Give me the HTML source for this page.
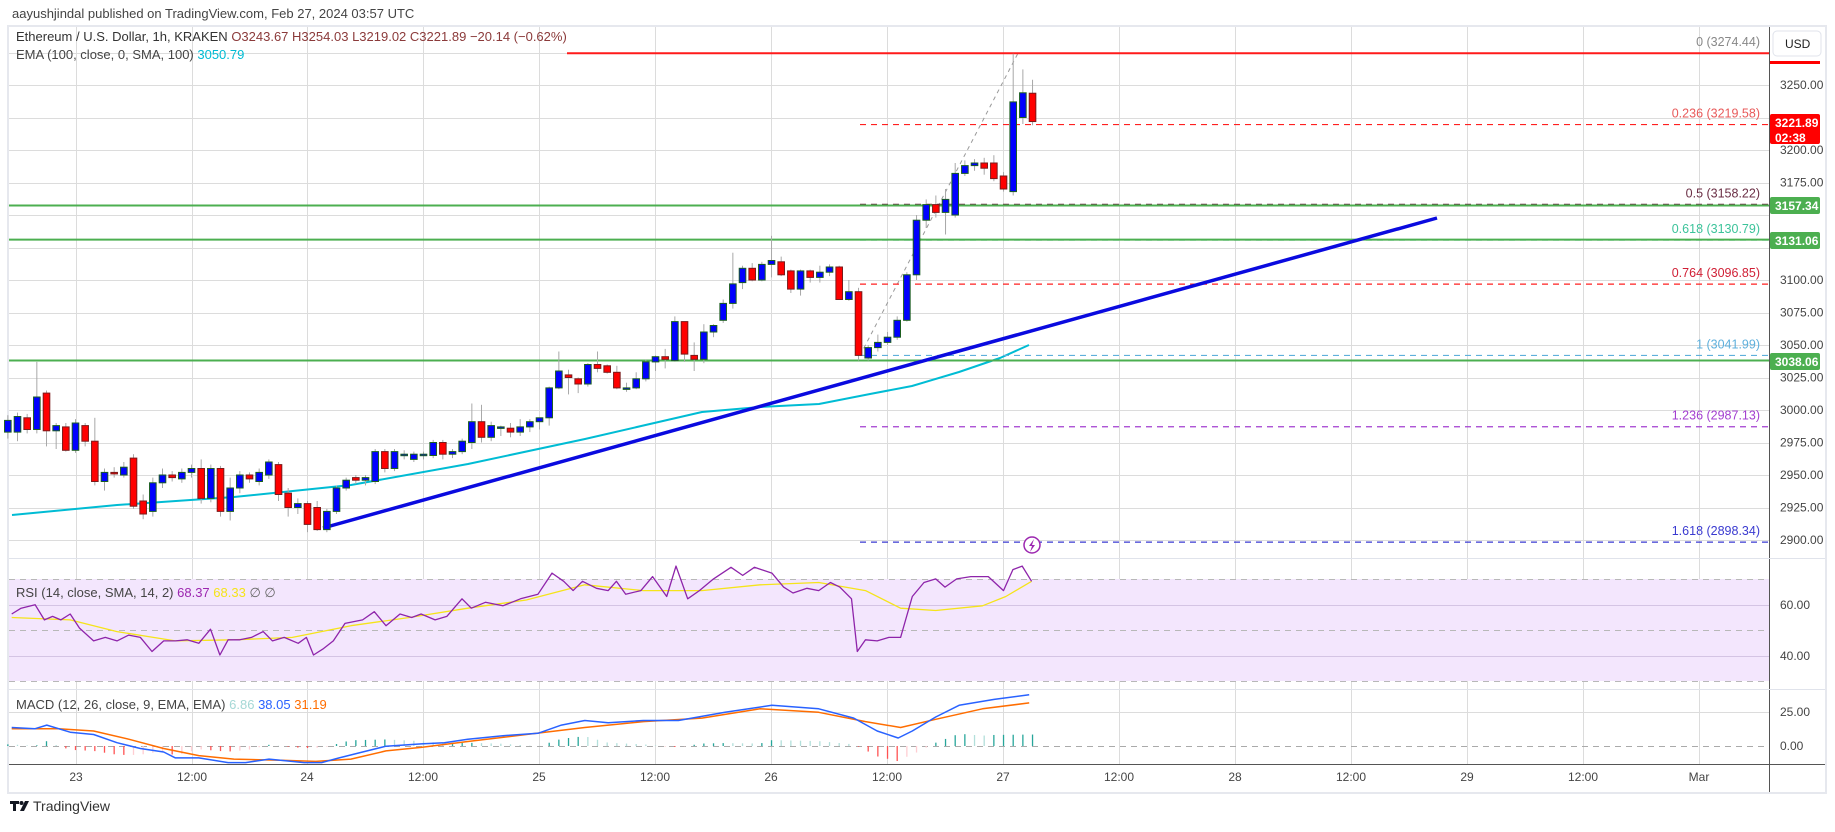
<!DOCTYPE html>
<html><head><meta charset="utf-8">
<style>
html,body{margin:0;padding:0;background:#fff;}
body{width:1835px;height:827px;overflow:hidden;position:relative;font-family:"Liberation Sans",sans-serif;}
svg text{font-family:"Liberation Sans",sans-serif;}
</style></head>
<body>
<svg id="s" width="1835" height="827" viewBox="0 0 1835 827" xmlns="http://www.w3.org/2000/svg">
<rect x="0" y="0" width="1835" height="827" fill="#fff"/>
<!-- frame -->
<rect x="8" y="26" width="1818" height="767" fill="#fff" stroke="#e6e8ee" stroke-width="2"/>
<g id="grid"></g>
<!-- RSI shading -->
<rect x="9" y="579" width="1760" height="102" fill="#f3e6fd"/>
<g id="grid2"></g>
<g id="lines"></g>
<g id="candles"></g>
<g id="over"></g>
<!-- axes -->
<line x1="1769.5" y1="27" x2="1769.5" y2="792" stroke="#555" stroke-width="1"/>
<line x1="9" y1="764.5" x2="1825" y2="764.5" stroke="#555" stroke-width="1"/>
<line x1="9" y1="558.5" x2="1825" y2="558.5" stroke="#e0e3eb" stroke-width="1"/>
<line x1="9" y1="689.5" x2="1825" y2="689.5" stroke="#e0e3eb" stroke-width="1"/>
<g id="axis" font-size="12" fill="#444"></g>

<!-- header -->
<text x="12" y="18" font-size="13" fill="#444">aayushjindal published on TradingView.com, Feb 27, 2024 03:57 UTC</text>
<text x="16" y="41" font-size="13" fill="#333">Ethereum / U.S. Dollar, 1h, KRAKEN <tspan fill="#8b3a3a">O3243.67</tspan> <tspan fill="#8b3a3a">H3254.03</tspan> <tspan fill="#8b3a3a">L3219.02</tspan> <tspan fill="#8b3a3a">C3221.89</tspan> <tspan fill="#8b3a3a">−20.14 (−0.62%)</tspan></text>
<text x="16" y="59" font-size="13" fill="#444">EMA (100, close, 0, SMA, 100) <tspan fill="#00bcd4">3050.79</tspan></text>
<text x="16" y="597" font-size="13" fill="#444">RSI (14, close, SMA, 14, 2) <tspan fill="#9c27b0">68.37</tspan> <tspan fill="#f5e41a">68.33</tspan> <tspan fill="#666">∅</tspan> <tspan fill="#666">∅</tspan></text>
<text x="16" y="709" font-size="13" fill="#444">MACD (12, 26, close, 9, EMA, EMA) <tspan fill="#a5d8d6">6.86</tspan> <tspan fill="#2962ff">38.05</tspan> <tspan fill="#ff6d00">31.19</tspan></text>

<!-- USD button -->
<rect x="1773" y="31" width="48" height="25" rx="4" fill="#fff" stroke="#e0e3eb"/>
<text x="1785" y="48" font-size="12" fill="#222">USD</text>

<!-- logo -->
<g transform="translate(10,801)">
<path d="M0 0h9v3h-3v7h-3v-7h-3z" fill="#131722"/>
<circle cx="11.5" cy="2" r="2" fill="#131722"/>
<path d="M15 0h4l-5 10h-4z" fill="#131722"/>
</g>
<text x="33" y="811" font-size="14" fill="#333">TradingView</text>
</svg>
<script>
var NS="http://www.w3.org/2000/svg";
function el(p,t,a,txt){var e=document.createElementNS(NS,t);for(var k in a)e.setAttribute(k,a[k]);if(txt!==undefined)e.textContent=txt;document.getElementById(p).appendChild(e);return e;}
function py(p){return 85+(3250-p)*1.3;}
function xh(h){return 75.5+h*9.667;}
// grid
var vx=[76,192,307,423,539,655,771,887,1003,1119,1235,1351,1467,1583,1699];
vx.forEach(function(x){el("grid","line",{x1:x+.5,y1:27,x2:x+.5,y2:764,stroke:"#dcdcdc","stroke-width":1});});
for(var p=2900;p<=3275;p+=25){var y=Math.round(py(p))+.5;el("grid","line",{x1:9,y1:y,x2:1769,y2:y,stroke:"#dcdcdc"});}
[605.5,656.5].forEach(function(y){el("grid2","line",{x1:9,y1:y,x2:1769,y2:y,stroke:"#d4c4e4"});});
[579.5,630.5,681.5].forEach(function(y){el("grid2","line",{x1:9,y1:y,x2:1769,y2:y,stroke:"#b8b8b8","stroke-dasharray":"6,5"});});
el("grid2","line",{x1:9,y1:712.5,x2:1769,y2:712.5,stroke:"#dcdcdc"});
el("grid2","line",{x1:9,y1:746.5,x2:1769,y2:746.5,stroke:"#aaa","stroke-dasharray":"6,5"});
// axis labels
[3250,3200,3175,3100,3075,3050,3025,3000,2975,2950,2925,2900].forEach(function(p){el("axis","text",{x:1780,y:py(p)+4},p.toFixed(2));});
el("axis","text",{x:1780,y:609},"60.00");el("axis","text",{x:1780,y:660},"40.00");
el("axis","text",{x:1780,y:716},"25.00");el("axis","text",{x:1780,y:750},"0.00");
var tl=["23","12:00","24","12:00","25","12:00","26","12:00","27","12:00","28","12:00","29","12:00","Mar"];
tl.forEach(function(t,i){el("axis","text",{x:vx[i],y:781,"text-anchor":"middle"},t);});
// horizontal levels
function hl(p,col,w,dash,x1){var y=py(p);var a={x1:x1||9,y1:y,x2:1769,y2:y,stroke:col,"stroke-width":w};if(dash)a["stroke-dasharray"]=dash;el("lines","line",a);}
// EMA
function poly(g,pts,col,w,sc){var s=pts.map(function(q){return (q[0]/(sc||1)).toFixed(1)+","+(q[1]/(sc||1)).toFixed(1);}).join(" ");el(g,"polyline",{points:s,fill:"none",stroke:col,"stroke-width":w,"stroke-linejoin":"round"});}
poly("lines",[[12,515],[117,505],[234,497],[351,485],[468,464],[585,439],[702,412],[760,407],[819,404],[870,394],[912,386],[959,372],[1000,358],[1029,345]],"#00bcd4",2);
// fib zigzag
el("lines","line",{x1:860,y1:py(3041.99),x2:1018,y2:py(3274.44),stroke:"#999","stroke-dasharray":"4,4"});
// fib levels
var fib=[[0,3274.44,"#888888"],[0.236,3219.58,"#e85a5a"],[0.5,3158.22,"#6b2f45"],[0.618,3130.79,"#3cc39a"],[0.764,3096.85,"#d01f35"],[1,3041.99,"#5fb0dc"],[1.236,2987.13,"#a33fd0"],[1.618,2898.34,"#3a3ad0"]];
fib.forEach(function(f){hl(f[1],f[0]==0.236||f[0]==0.764?"#ff2020":f[2],1.2,"6,5",860);
 el("over","text",{x:1760,y:py(f[1])-7,"text-anchor":"end","font-size":"12.5",fill:f[2]},f[0]+" ("+f[1].toFixed(2)+")");});
hl(3274.44,"#ff1a1a",2,null,567);
hl(3157.34,"#4caf50",2);hl(3131.06,"#4caf50",2);hl(3038.06,"#4caf50",2);
// trendline
el("lines","line",{x1:323,y1:528,x2:1437,y2:218,stroke:"#0a0adf","stroke-width":3.5});
// candles
var C=[[2983,2996,2978,2992],[2983,2998,2976,2995],[2994,2997,2982,2985],[2985,3037,2982,3010],[3013,3015,2972,2984],[2984,2990,2970,2988],[2987,2990,2968,2969],[2969,2993,2967,2990],[2988,2990,2972,2976],[2976,2994,2942,2945],
[2945,2955,2938,2952],[2952,2956,2948,2951],[2950,2960,2948,2956],[2963,2966,2924,2926],[2930,2935,2916,2920],[2922,2948,2918,2944],[2944,2955,2940,2950],[2950,2953,2945,2948],[2947,2955,2944,2952],[2952,2958,2948,2955],
[2955,2962,2928,2932],[2932,2958,2929,2955],[2955,2957,2918,2922],[2922,2948,2915,2940],[2940,2953,2936,2950],[2950,2952,2944,2947],[2945,2955,2942,2952],[2950,2962,2947,2960],[2958,2960,2930,2935],[2936,2940,2918,2925],
[2925,2932,2920,2928],[2928,2930,2906,2912],[2925,2930,2907,2908],[2908,2924,2906,2922],[2922,2942,2920,2940],[2940,2948,2938,2946],[2948,2950,2943,2946],[2946,2950,2942,2948],[2945,2970,2943,2968],[2968,2970,2952,2955],
[2955,2970,2953,2968],[2966,2969,2962,2966],[2962,2968,2960,2966],[2966,2968,2962,2966],[2965,2977,2963,2975],[2975,2977,2962,2966],[2966,2970,2963,2968],[2968,2978,2966,2976],[2975,3005,2970,2991],[2991,3004,2975,2979],
[2979,2991,2976,2988],[2987,2988,2980,2987],[2986,2990,2979,2983],[2983,2993,2980,2987],[2987,2993,2983,2991],[2991,2994,2985,2994],[2994,3018,2988,3017],[3017,3045,3016,3030],[3027,3031,3012,3025],[3024,3025,3013,3020],
[3020,3036,3018,3035],[3035,3045,3029,3032],[3034,3035,3028,3029],[3029,3034,3016,3017],[3017,3021,3014,3017],[3017,3029,3016,3024],[3024,3039,3022,3037],[3037,3042,3030,3041],[3041,3047,3032,3039],[3038,3072,3037,3068],
[3068,3068,3037,3043],[3042,3052,3030,3039],[3039,3066,3036,3060],[3060,3066,3056,3065],[3069,3085,3067,3082],[3082,3121,3078,3097],[3098,3111,3093,3109],[3109,3113,3099,3100],[3100,3114,3099,3112],[3112,3134,3102,3115],
[3114,3118,3103,3104],[3107,3108,3090,3093],[3093,3108,3088,3107],[3107,3108,3098,3102],[3102,3111,3098,3106],[3106,3112,3103,3110],[3110,3111,3085,3085],[3085,3100,3084,3091],[3091,3094,3038,3042],[3040,3050,3038,3048],
[3048,3058,3045,3052],[3052,3060,3050,3056],[3056,3072,3054,3069],[3069,3106,3068,3104],[3104,3150,3100,3146],[3146,3162,3140,3158],[3158,3165,3148,3152],[3152,3170,3135,3162],[3150,3190,3148,3182],[3182,3192,3180,3188],
[3188,3193,3184,3190],[3190,3194,3181,3186],[3190,3196,3176,3178],[3180,3183,3168,3170],[3168,3274,3165,3237],[3225,3262,3220,3244],[3243.67,3254.03,3219.02,3221.89]];
C.forEach(function(c,i){var h=i-7,x=xh(h);var up=c[3]>=c[0];
 el("candles","line",{x1:x,y1:py(c[1]),x2:x,y2:py(c[2]),stroke:"#a8a8a8","stroke-width":1});
 var t=py(Math.max(c[0],c[3])),b=py(Math.min(c[0],c[3]));if(b-t<1.5){b=t+1.5;}
 el("candles","rect",{x:x-3.3,y:t,width:6.6,height:b-t,fill:up?"#0000ff":"#ff0000",stroke:up?"#1b5e20":"#7a1a1a","stroke-width":1});});
// RSI
var R=[[10,525],[18,520],[30,517],[38,530],[45,527],[52,530],[60,525],[68,537],[80,548],[90,545],[100,548],[110,543],[120,545],[130,557],[140,548],[150,548],[160,547],[170,550],[180,538],[188,560],[195,547],[205,547],[215,545],[225,540],[233,548],[243,545],[255,550],[262,545],[268,560],[276,555],[285,548],[295,533],[310,530],[320,523],[330,535],[342,525],[352,528],[360,525],[372,530],[382,527],[395,512],[403,520],[415,515],[430,518],[445,512],[460,508],[472,490],[482,497],[490,505],[498,497],[510,503],[520,505],[527,497],[535,508],[548,505],[558,493],[570,510],[578,484],[588,512],[598,505],[610,495],[625,485],[635,492],[645,485],[660,490],[670,502],[678,507],[690,503],[700,505],[710,498],[718,502],[728,512],[733,557],[740,547],[750,548],[760,545],[770,545],[780,510],[790,498],[800,495],[808,502],[818,495],[830,493],[845,493],[858,505],[866,487],[874,484],[882,497]];
var RS=[[10,528],[60,530],[100,540],[150,548],[200,547],[250,545],[300,535],[350,528],[400,520],[450,513],[500,500],[550,505],[600,505],[650,500],[700,498],[740,505],[770,520],[800,522],[840,518],[860,510],[882,497]];
poly("over",RS,"#f5e41a",1.3,0.855);poly("over",R,"#8e24aa",1.3,0.855);
// MACD
var M=[[10,622],[30,623],[40,620],[60,626],[80,628],[100,635],[120,640],[140,643],[150,648],[170,648],[195,652],[210,652],[230,649],[260,652],[275,652],[290,648],[310,643],[330,638],[360,636],[380,635],[400,632],[430,629],[460,627],[480,620],[500,616],[520,618],[550,616],[580,616],[620,609],[660,603],[700,606],[730,614],[750,625],[768,631],[780,625],[800,613],[820,603],[850,598],[880,594]];
var S=[[10,623],[50,623],[80,625],[110,632],[140,640],[170,646],[200,649],[240,650],[270,651],[300,649],[330,642],[360,639],[400,634],[450,628],[500,622],[550,617],[600,614],[650,606],[700,609],[740,617],[770,622],[800,615],[840,606],[880,601]];
function interp(A,x){if(x<=A[0][0])return A[0][1];for(var i=1;i<A.length;i++){if(x<=A[i][0]){var a=A[i-1],b=A[i];return a[1]+(b[1]-a[1])*(x-a[0])/(b[0]-a[0]);}}return A[A.length-1][1];}
var prev=0;
for(var h=-7;h<=99;h++){var x=xh(h),tx=x*0.855;var d=(interp(S,tx)-interp(M,tx))/0.855;var v=d*1.4;
 var col=v>=0?(v>=prev?"#26a69a":"#b2dfdb"):(v<=prev?"#ff5252":"#ffcdd2");prev=v;
 el("over","line",{x1:x,y1:746,x2:x,y2:746-v,stroke:col,"stroke-width":1.3});}
poly("over",S,"#ff6d00",1.5,0.855);poly("over",M,"#2962ff",1.5,0.855);
// lightning icon
el("over","circle",{cx:1032,cy:545,r:8,fill:"#fff",stroke:"#9c27b0","stroke-width":1.5});
el("over","path",{d:"M1034 539l-5 7h3l-2 6 5-7h-3z",fill:"#9c27b0"});
// price labels
function box(y,h,col,lines){el("over","rect",{x:1770,y:y,width:50,height:h,rx:2,fill:col});lines.forEach(function(t,i){el("over","text",{x:1775,y:y+13+i*15,"font-size":"12","font-weight":"bold",fill:"#fff"},t);});}
el("over","rect",{x:1770,y:61,width:50,height:3,fill:"#ff0000"});
box(114,30,"#ff0000",["3221.89","02:38"]);
box(197,17,"#4caf50",["3157.34"]);box(232,17,"#4caf50",["3131.06"]);box(353,17,"#4caf50",["3038.06"]);
</script>
</body></html>
